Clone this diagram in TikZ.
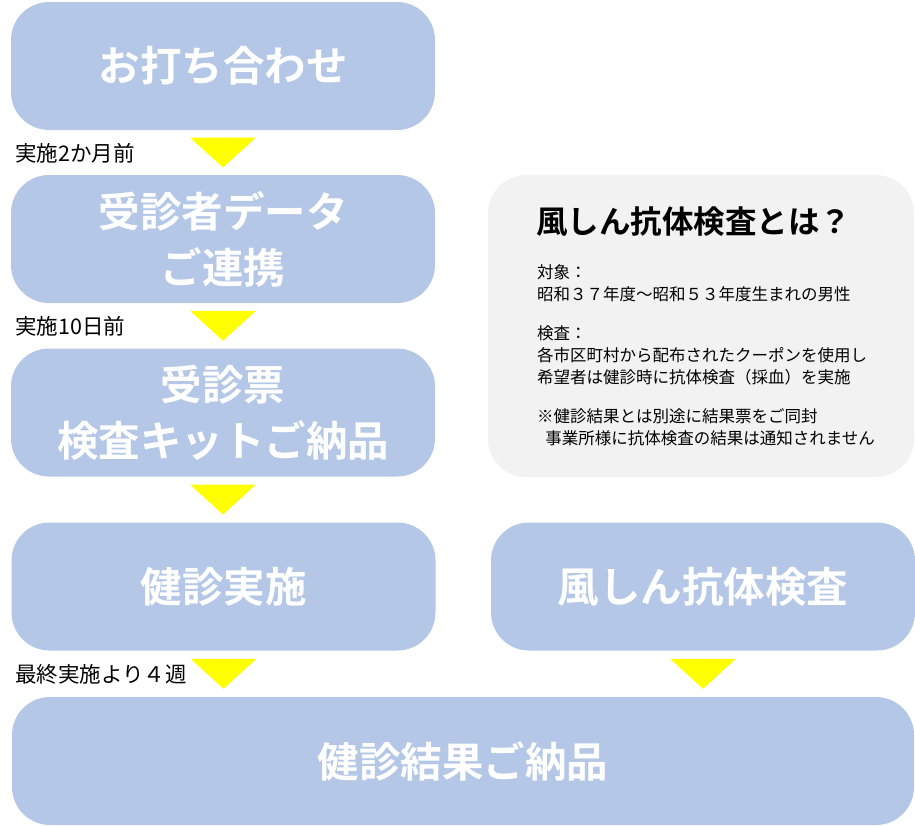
\documentclass[tikz,border=0pt]{standalone}
\usepackage{fontspec}
\setmainfont{Noto Sans CJK JP}[BoldFont={Noto Sans CJK JP Bold}]
\usepackage{tikz}
\usetikzlibrary{calc,positioning}
\definecolor{boxblue}{HTML}{B4C7E7}
\definecolor{infogray}{HTML}{F2F2F2}
\definecolor{triyellow}{HTML}{FFFF00}
\tikzset{
  stepbox/.style={fill=boxblue,rounded corners=38pt,minimum width=424pt,minimum height=128pt,
    text=white,align=center,inner sep=0pt,font=\fontsize{41.5}{56}\selectfont\bfseries},
  lead/.style={anchor=west,inner sep=0pt,font=\fontsize{21.5}{24}\selectfont},
  tri/.style={fill=triyellow}
}

\begin{document}
\begin{tikzpicture}[x=1pt,y=-1pt]
                      \useasboundingbox (0,0) rectangle (915,825);
                      \node[stepbox](meet) at (223,66){お打ち合わせ};
                      \node[stepbox](data) at (223,239){受診者データ\\ご連携};
                      \node[stepbox](kit) at (223,412.5){受診票\\検査キットご納品};
                      \node[stepbox](exam) at (223.5,586.5){健診実施};
                      \node[stepbox](rubella) at (703,586.5){風しん抗体検査};
                      \node[stepbox,fill=infogray,minimum width=426pt,minimum height=302pt](info) at (701,326){};
                      \node[stepbox,minimum width=902pt](result) at (463,761){健診結果ご納品};
                      % yellow arrows between the steps
                      \foreach \a/\b in {meet/data,data/kit,kit/exam,exam/result,rubella/result}
                        \fill[tri] ($(\a.south)!0.5!(\a.south|-\b.north)$) ++(-33,-15) -- ++(66,0) -- ++(-33,30) -- cycle;
                      \node[lead](lead1) at (15,153){実施2か月前};
                      \node[lead](lead2) at (15,326){実施10日前};
                      \node[lead](lead3) at (15,674){最終実施より４週};
                      % info box text
                      \node[anchor=west,inner sep=0pt,font=\fontsize{31.5}{36}\selectfont\bfseries](infotitle) at (536,222){風しん抗体検査とは？};
                      \node[anchor=north west,align=left,inner sep=0pt,font=\fontsize{16.5}{22}\selectfont](infobody) at (537,264){対象：\\昭和３７年度～昭和５３年度生まれの男性\\[17pt]検査：\\各市区町村から配布されたクーポンを使用し\\希望者は健診時に抗体検査（採血）を実施\\[17pt]※健診結果とは別途に結果票をご同封\\\hspace{0.5em}事業所様に抗体検査の結果は通知されません};
                  \end{tikzpicture}
\end{document}
